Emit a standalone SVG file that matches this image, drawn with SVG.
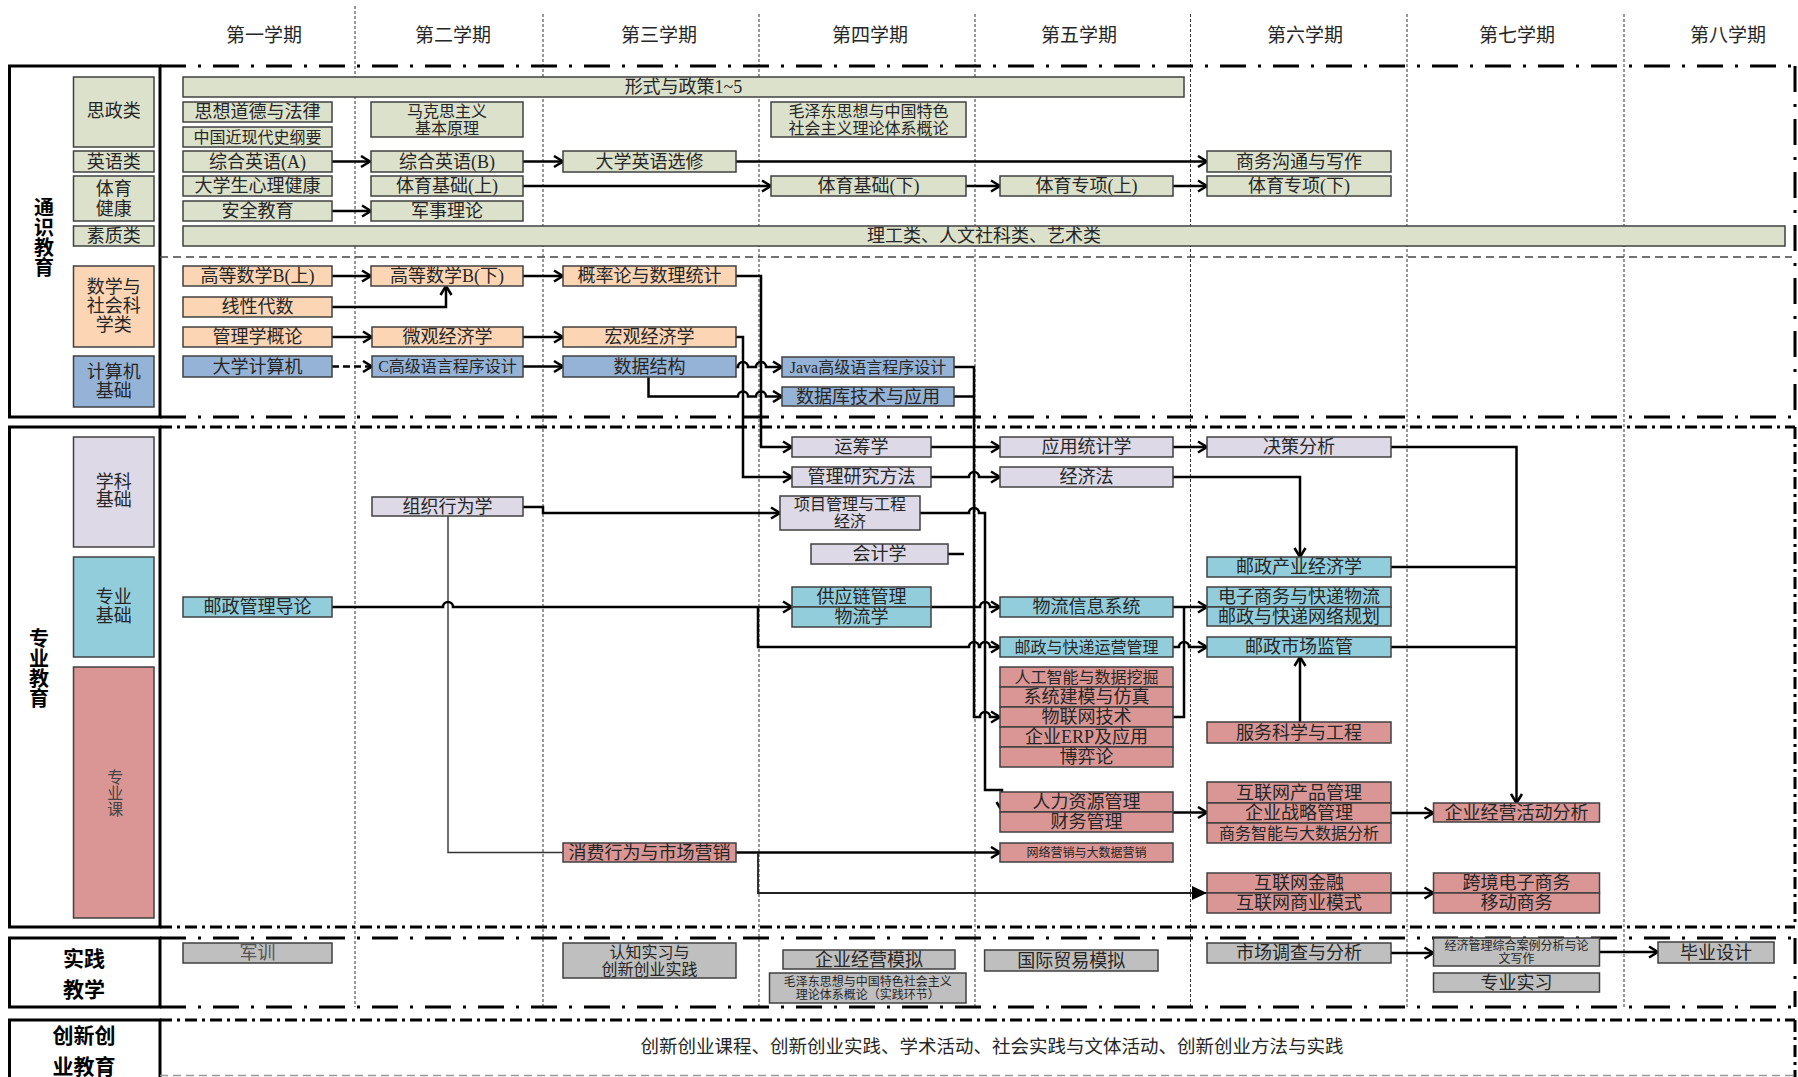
<svg xmlns="http://www.w3.org/2000/svg" width="1798" height="1077" viewBox="0 0 1798 1077">
<style>
rect{stroke:#404040;stroke-width:1.5}
.g{fill:#DCE1CC}.o{fill:#FCD5B5}.bl{fill:#95B3D7}.p{fill:#DDD9E7}.c{fill:#92CDDC}.r{fill:#D99694}.k{fill:#BFBFBF}
text{font-family:"Liberation Serif","Noto Sans CJK SC",serif;fill:#262626;text-anchor:middle;dominant-baseline:central;font-size:18px}
.s16{font-size:16px}.s12{font-size:12px}.h{font-size:19px}
.L{font-family:"Noto Sans CJK SC",sans-serif;font-weight:bold;font-size:21px;fill:#000}
.V{font-family:"Noto Sans CJK SC",sans-serif;font-weight:bold;font-size:20px;fill:#000;writing-mode:vertical-rl}
.frame{fill:none;stroke:#000;stroke-width:3}
.ln{fill:none;stroke:#000;stroke-width:2.5}
.sep{stroke:#333;stroke-width:1;stroke-dasharray:3 2}
.ld{stroke:#000;stroke-width:3;stroke-dasharray:26 12 3 12;fill:none}
.sd{stroke:#000;stroke-width:3;stroke-dasharray:12 5 3 5;fill:none}
</style>
<defs>
<marker id="a" markerWidth="14" markerHeight="14" refX="11" refY="7" orient="auto" markerUnits="userSpaceOnUse"><path d="M2,1.5 L11,7 L2,12.5" fill="none" stroke="#000" stroke-width="2.5"/></marker>
<marker id="f" markerWidth="16" markerHeight="14" refX="15" refY="7" orient="auto" markerUnits="userSpaceOnUse"><path d="M0,0 L15,7 L0,14 z" fill="#000"/></marker>
</defs>

<g id="headers">
<text class="h" x="264" y="35">第一学期</text>
<text class="h" x="453" y="35">第二学期</text>
<text class="h" x="659" y="35">第三学期</text>
<text class="h" x="870" y="35">第四学期</text>
<text class="h" x="1079" y="35">第五学期</text>
<text class="h" x="1305" y="35">第六学期</text>
<text class="h" x="1517" y="35">第七学期</text>
<text class="h" x="1728" y="35">第八学期</text>
</g>

<g id="separators">
<line class="sep" x1="355" y1="6" x2="355" y2="1007"/>
<line class="sep" x1="543" y1="14" x2="543" y2="1007"/>
<line class="sep" x1="759" y1="14" x2="759" y2="1007"/>
<line class="sep" x1="975" y1="14" x2="975" y2="1007"/>
<line class="sep" x1="1190.5" y1="14" x2="1190.5" y2="1007"/>
<line class="sep" x1="1407" y1="14" x2="1407" y2="1007"/>
<line class="sep" x1="1624" y1="14" x2="1624" y2="1007"/>
</g>

<g id="frames">
<rect class="frame" x="9.5" y="66" width="150.5" height="351"/>
<rect class="frame" x="9.5" y="427" width="150.5" height="500"/>
<rect class="frame" x="9.5" y="938" width="150.5" height="69"/>
<rect class="frame" x="9.5" y="1020" width="150.5" height="70"/>
<line class="ld" x1="160" y1="66" x2="1795" y2="66"/>
<line class="ld" x1="1795" y1="66" x2="1795" y2="417"/>
<line class="ld" x1="160" y1="417" x2="1795" y2="417"/>
<line x1="160" y1="257" x2="1792" y2="257" stroke="#444" stroke-width="1.5" stroke-dasharray="8 5"/>
<line class="sd" x1="160" y1="427" x2="1795" y2="427"/>
<line class="sd" x1="1795" y1="427" x2="1795" y2="927"/>
<line class="sd" x1="160" y1="927" x2="1795" y2="927"/>
<line class="ld" x1="160" y1="938" x2="1795" y2="938"/>
<line class="ld" x1="1795" y1="938" x2="1795" y2="1007"/>
<line class="ld" x1="160" y1="1007" x2="1795" y2="1007"/>
<line class="sd" x1="160" y1="1020" x2="1795" y2="1020"/>
<line class="sd" x1="1795" y1="1020" x2="1795" y2="1077"/>
<line x1="160" y1="1075.5" x2="1795" y2="1075.5" stroke="#999" stroke-width="1.5" stroke-dasharray="8 5"/>
<text class="V" x="44" y="237">通识教育</text>
<text class="V" x="39" y="668">专业教育</text>
<text class="L" x="84" y="957">实践</text>
<text class="L" x="84" y="988">教学</text>
<text class="L" x="84" y="1034">创新创</text>
<text class="L" x="84" y="1065">业教育</text>
</g>

<g id="categories">
<g id="cat-sizheng"><rect class="g" x="73.5" y="77" width="80.5" height="70"/><text x="113.75" y="111">思政类</text></g>
<g id="cat-english"><rect class="g" x="73.5" y="151" width="80.5" height="21"/><text x="113.75" y="161.5">英语类</text></g>
<g id="cat-pe"><rect class="g" x="73.5" y="176" width="80.5" height="45"/><text x="113.75" y="188.5">体育</text><text x="113.75" y="208.5">健康</text></g>
<g id="cat-suzhi"><rect class="g" x="73.5" y="226" width="80.5" height="20"/><text x="113.75" y="236">素质类</text></g>
<g id="cat-math"><rect class="o" x="73.5" y="266" width="80.5" height="81"/><text x="113.75" y="287">数学与</text><text x="113.75" y="306">社会科</text><text x="113.75" y="325">学类</text></g>
<g id="cat-cs"><rect class="bl" x="73.5" y="356" width="80.5" height="51"/><text x="113.75" y="372">计算机</text><text x="113.75" y="391">基础</text></g>
<g id="cat-xueke"><rect class="p" x="73.5" y="437" width="80.5" height="110"/><text x="113.75" y="482">学科</text><text x="113.75" y="500">基础</text></g>
<g id="cat-zhuanye"><rect class="c" x="73.5" y="557" width="80.5" height="100"/><text x="113.75" y="597">专业</text><text x="113.75" y="616">基础</text></g>
<g id="cat-ke"><rect class="r" x="73.5" y="667" width="80.5" height="251"/><text x="113.75" y="793" style="font-size:16px;fill:#444;writing-mode:vertical-rl">专业课</text></g>
</g>

<g id="connectors">
<path class="ln" marker-end="url(#a)" d="M332,161.5 H370"/>
<path class="ln" marker-end="url(#a)" d="M523,161.5 H563"/>
<path class="ln" marker-end="url(#a)" d="M736,161.5 H1207"/>
<path class="ln" marker-end="url(#a)" d="M523,186 H771"/>
<path class="ln" marker-end="url(#a)" d="M966,186 H1000"/>
<path class="ln" marker-end="url(#a)" d="M1173,186 H1207"/>
<path class="ln" marker-end="url(#a)" d="M332,211 H371"/>
<path class="ln" marker-end="url(#a)" d="M332,276 H371"/>
<path class="ln" marker-end="url(#a)" d="M523,276 H563"/>
<path class="ln" marker-end="url(#a)" d="M332,307 H446 V286"/>
<path class="ln" marker-end="url(#a)" d="M332,337 H372"/>
<path class="ln" marker-end="url(#a)" d="M523,337 H563"/>
<path class="ln" marker-end="url(#a)" stroke-dasharray="7 4" d="M332,366.5 H372"/>
<path class="ln" marker-end="url(#a)" d="M523,366.5 H563"/>
<path class="ln" marker-end="url(#a)" d="M736,367 H738 A5,5 0 0 1 748,367 H756 A5,5 0 0 1 766,367 H782"/>
<path class="ln" marker-end="url(#a)" d="M648.5,377 V396.5 H738 A5,5 0 0 1 748,396.5 H756 A5,5 0 0 1 766,396.5 H782"/>
<path class="ln" marker-end="url(#a)" d="M736,276 H761 V447 H792"/>
<path class="ln" marker-end="url(#a)" d="M736,337 H743 V477 H792"/>
<path class="ln" marker-end="url(#a)" d="M954,367 H974 V717 H980 A5,5 0 0 1 990,717 H1000"/>
<path class="ln" d="M954,396.5 H974"/>
<path class="ln" marker-end="url(#a)" d="M931,447 H1000"/>
<path class="ln" marker-end="url(#a)" d="M931,477 H969 A5,5 0 0 1 979,477 H1000"/>
<path class="ln" marker-end="url(#a)" d="M1173,447 H1207"/>
<path class="ln" marker-end="url(#a)" d="M1173,477 H1300 V557"/>
<path class="ln" marker-end="url(#a)" d="M1391,447 H1516.5 V803"/>
<path class="ln" d="M1391,567 H1516.5"/>
<path class="ln" d="M1391,647 H1516.5"/>
<path class="ln" marker-end="url(#a)" d="M1300,722 V657"/>
<path class="ln" marker-end="url(#a)" d="M523,507 H543 V513 H780"/>
<path fill="none" stroke="#333" stroke-width="1.4" d="M448,516 V852.5 H563"/>
<path class="ln" marker-end="url(#a)" d="M332,607 H443 A5,5 0 0 1 453,607 H792"/>
<path class="ln" marker-end="url(#a)" d="M758,607 V647 H969 A5,5 0 0 1 979,647 H980 A5,5 0 0 1 990,647 H1000"/>
<path class="ln" marker-end="url(#a)" d="M931,607 H980 A5,5 0 0 1 990,607 H1000"/>
<path class="ln" marker-end="url(#a)" d="M920,513 H969 A5,5 0 0 1 979,513 H985 V790 H1002 V811"/>
<path class="ln" d="M948,554 H964"/>
<path class="ln" marker-end="url(#a)" d="M1173,607 H1207"/>
<path class="ln" d="M1173,717 H1184 V607"/>
<path class="ln" marker-end="url(#a)" d="M1173,647 H1179 A5,5 0 0 1 1189,647 H1207"/>
<path class="ln" marker-end="url(#a)" d="M1173,812.5 H1207"/>
<path class="ln" marker-end="url(#a)" d="M1391,813 H1433.5"/>
<path class="ln" marker-end="url(#a)" d="M736,852.5 H1000"/>
<path fill="none" stroke="#222" stroke-width="1.8" marker-end="url(#f)" d="M758,852.5 V893 H1207"/>
<path class="ln" marker-end="url(#a)" d="M1391,893 H1433.5"/>
<path class="ln" marker-end="url(#a)" d="M1391,953 H1433.5"/>
<path class="ln" marker-end="url(#a)" d="M1599.5,952 H1658"/>
</g>

<g id="n1"><rect class="g" x="183" y="77" width="1001" height="20"/><text x="683.5" y="87">形式与政策1~5</text></g>
<g id="n2"><rect class="g" x="183" y="102" width="149" height="20"/><text x="257.5" y="112">思想道德与法律</text></g>
<g id="n3"><rect class="g" x="183" y="127" width="149" height="20"/><text class="s16" x="257.5" y="137">中国近现代史纲要</text></g>
<g id="n4"><rect class="g" x="371" y="102" width="152" height="35"/><text class="s16" x="447" y="111">马克思主义</text><text class="s16" x="447" y="128">基本原理</text></g>
<g id="n5"><rect class="g" x="771" y="102" width="195" height="35"/><text class="s16" x="868.5" y="111">毛泽东思想与中国特色</text><text class="s16" x="868.5" y="128">社会主义理论体系概论</text></g>
<g id="n6"><rect class="g" x="183" y="151" width="149" height="21"/><text x="257.5" y="161.5">综合英语(A)</text></g>
<g id="n7"><rect class="g" x="371" y="151" width="152" height="21"/><text x="447" y="161.5">综合英语(B)</text></g>
<g id="n8"><rect class="g" x="563" y="151" width="173" height="21"/><text x="649.5" y="161.5">大学英语选修</text></g>
<g id="n9"><rect class="g" x="1207" y="151" width="184" height="21"/><text x="1299" y="161.5">商务沟通与写作</text></g>
<g id="n10"><rect class="g" x="183" y="176" width="149" height="20"/><text x="257.5" y="186">大学生心理健康</text></g>
<g id="n11"><rect class="g" x="371" y="176" width="152" height="20"/><text x="447" y="186">体育基础(上)</text></g>
<g id="n12"><rect class="g" x="771" y="176" width="195" height="20"/><text x="868.5" y="186">体育基础(下)</text></g>
<g id="n13"><rect class="g" x="1000" y="176" width="173" height="20"/><text x="1086.5" y="186">体育专项(上)</text></g>
<g id="n14"><rect class="g" x="1207" y="176" width="184" height="20"/><text x="1299" y="186">体育专项(下)</text></g>
<g id="n15"><rect class="g" x="183" y="201" width="149" height="20"/><text x="257.5" y="211">安全教育</text></g>
<g id="n16"><rect class="g" x="371" y="201" width="152" height="20"/><text x="447" y="211">军事理论</text></g>
<g id="n17"><rect class="g" x="183" y="226" width="1602" height="20"/><text x="984" y="236">理工类、人文社科类、艺术类</text></g>
<g id="n18"><rect class="o" x="183" y="266" width="149" height="20"/><text x="257.5" y="276">高等数学B(上)</text></g>
<g id="n19"><rect class="o" x="371" y="266" width="152" height="20"/><text x="447" y="276">高等数学B(下)</text></g>
<g id="n20"><rect class="o" x="563" y="266" width="173" height="20"/><text x="649.5" y="276">概率论与数理统计</text></g>
<g id="n21"><rect class="o" x="183" y="297" width="149" height="20"/><text x="257.5" y="307">线性代数</text></g>
<g id="n22"><rect class="o" x="183" y="327" width="149" height="20"/><text x="257.5" y="337">管理学概论</text></g>
<g id="n23"><rect class="o" x="372" y="327" width="151" height="20"/><text x="447.5" y="337">微观经济学</text></g>
<g id="n24"><rect class="o" x="563" y="327" width="173" height="20"/><text x="649.5" y="337">宏观经济学</text></g>
<g id="n25"><rect class="bl" x="183" y="356" width="149" height="21"/><text x="257.5" y="366.5">大学计算机</text></g>
<g id="n26"><rect class="bl" x="372" y="356" width="151" height="21"/><text class="s16" x="447.5" y="366.5">C高级语言程序设计</text></g>
<g id="n27"><rect class="bl" x="563" y="356" width="173" height="21"/><text x="649.5" y="366.5">数据结构</text></g>
<g id="n28"><rect class="bl" x="782" y="357" width="172" height="20"/><text class="s16" x="868" y="367">Java高级语言程序设计</text></g>
<g id="n29"><rect class="bl" x="782" y="387" width="172" height="19"/><text x="868" y="396.5">数据库技术与应用</text></g>

<g id="n30"><rect class="p" x="792" y="437" width="139" height="20"/><text x="861.5" y="447">运筹学</text></g>
<g id="n31"><rect class="p" x="792" y="467" width="139" height="20"/><text x="861.5" y="477">管理研究方法</text></g>
<g id="n32"><rect class="p" x="780" y="496" width="140" height="34"/><text class="s16" x="850" y="504.5">项目管理与工程</text><text class="s16" x="850" y="521.5">经济</text></g>
<g id="n33"><rect class="p" x="811" y="544" width="137" height="20"/><text x="879.5" y="554">会计学</text></g>
<g id="n34"><rect class="p" x="1000" y="437" width="173" height="20"/><text x="1086.5" y="447">应用统计学</text></g>
<g id="n35"><rect class="p" x="1000" y="467" width="173" height="20"/><text x="1086.5" y="477">经济法</text></g>
<g id="n36"><rect class="p" x="1207" y="437" width="184" height="20"/><text x="1299" y="447">决策分析</text></g>
<g id="n37"><rect class="p" x="372" y="497" width="151" height="19"/><text x="447.5" y="506.5">组织行为学</text></g>
<g id="n38"><rect class="c" x="183" y="597" width="149" height="20"/><text x="257.5" y="607">邮政管理导论</text></g>
<g id="n39"><rect class="c" x="792" y="587" width="139" height="20"/><rect class="c" x="792" y="607" width="139" height="20"/><text x="861.5" y="597">供应链管理</text><text x="861.5" y="617">物流学</text></g>
<g id="n40"><rect class="c" x="1000" y="597" width="173" height="20"/><text x="1086.5" y="607">物流信息系统</text></g>
<g id="n41"><rect class="c" x="1000" y="637" width="173" height="20"/><text class="s16" x="1086.5" y="647">邮政与快递运营管理</text></g>
<g id="n42"><rect class="r" x="1000" y="667" width="173" height="20"/><rect class="r" x="1000" y="687" width="173" height="20"/><rect class="r" x="1000" y="707" width="173" height="20"/><rect class="r" x="1000" y="727" width="173" height="20"/><rect class="r" x="1000" y="747" width="173" height="20"/><text class="s16" x="1086.5" y="677">人工智能与数据挖掘</text><text x="1086.5" y="697">系统建模与仿真</text><text x="1086.5" y="717">物联网技术</text><text x="1086.5" y="737">企业ERP及应用</text><text x="1086.5" y="757">博弈论</text></g>
<g id="n43"><rect class="r" x="1000" y="792" width="173" height="20"/><rect class="r" x="1000" y="812" width="173" height="20"/><text x="1086.5" y="802">人力资源管理</text><text x="1086.5" y="822">财务管理</text></g>
<g id="n44"><rect class="r" x="1000" y="843" width="173" height="19"/><text class="s12" x="1086.5" y="852.5">网络营销与大数据营销</text></g>
<g id="n45"><rect class="c" x="1207" y="557" width="184" height="20"/><text x="1299" y="567">邮政产业经济学</text></g>
<g id="n46"><rect class="c" x="1207" y="587" width="184" height="20"/><rect class="c" x="1207" y="607" width="184" height="19"/><text x="1299" y="597">电子商务与快递物流</text><text x="1299" y="616.5">邮政与快递网络规划</text></g>
<g id="n47"><rect class="c" x="1207" y="637" width="184" height="20"/><text x="1299" y="647">邮政市场监管</text></g>
<g id="n48"><rect class="r" x="1207" y="722" width="184" height="21"/><text x="1299" y="732.5">服务科学与工程</text></g>
<g id="n49"><rect class="r" x="1207" y="782" width="184" height="21"/><rect class="r" x="1207" y="803" width="184" height="20"/><rect class="r" x="1207" y="823" width="184" height="20"/><text x="1299" y="792.5">互联网产品管理</text><text x="1299" y="813">企业战略管理</text><text class="s16" x="1299" y="833">商务智能与大数据分析</text></g>
<g id="n50"><rect class="r" x="1433.5" y="803" width="166" height="19"/><text x="1516.5" y="812.5">企业经营活动分析</text></g>
<g id="n51"><rect class="r" x="1207" y="873" width="184" height="20"/><rect class="r" x="1207" y="893" width="184" height="20"/><text x="1299" y="883">互联网金融</text><text x="1299" y="903">互联网商业模式</text></g>
<g id="n52"><rect class="r" x="1433.5" y="873" width="166" height="20"/><rect class="r" x="1433.5" y="893" width="166" height="20"/><text x="1516.5" y="883">跨境电子商务</text><text x="1516.5" y="903">移动商务</text></g>
<g id="n53"><rect class="r" x="563" y="843" width="173" height="19"/><text x="649.5" y="852.5">消费行为与市场营销</text></g>

<g id="n54"><rect class="k" x="183" y="943" width="149" height="20"/><text x="257.5" y="953" style="fill:#555">军训</text></g>
<g id="n55"><rect class="k" x="563" y="943" width="173" height="35"/><text class="s16" x="649.5" y="952">认知实习与</text><text class="s16" x="649.5" y="969">创新创业实践</text></g>
<g id="n56"><rect class="k" x="783" y="950" width="172" height="19"/><text x="869" y="959.5">企业经营模拟</text></g>
<g id="n57"><rect class="k" x="769.5" y="973" width="196.5" height="30"/><text class="s12" x="867.75" y="982">毛泽东思想与中国特色社会主义</text><text class="s12" x="867.75" y="995">理论体系概论（实践环节）</text></g>
<g id="n58"><rect class="k" x="984.6" y="950" width="173.4" height="21"/><text x="1071.3" y="960.5">国际贸易模拟</text></g>
<g id="n59"><rect class="k" x="1207" y="943" width="184" height="20"/><text x="1299" y="953">市场调查与分析</text></g>
<g id="n60"><rect class="k" x="1433.5" y="938" width="166" height="28"/><text class="s12" x="1516.5" y="946">经济管理综合案例分析与论</text><text class="s12" x="1516.5" y="958.5">文写作</text></g>
<g id="n61"><rect class="k" x="1433.5" y="973" width="166" height="19"/><text x="1516.5" y="982.5">专业实习</text></g>
<g id="n62"><rect class="k" x="1658" y="942" width="116" height="21"/><text x="1716" y="952.5">毕业设计</text></g>

<g id="n63"><text x="992" y="1047" style="font-size:18.5px">创新创业课程、创新创业实践、学术活动、社会实践与文体活动、创新创业方法与实践</text></g>
</svg>
